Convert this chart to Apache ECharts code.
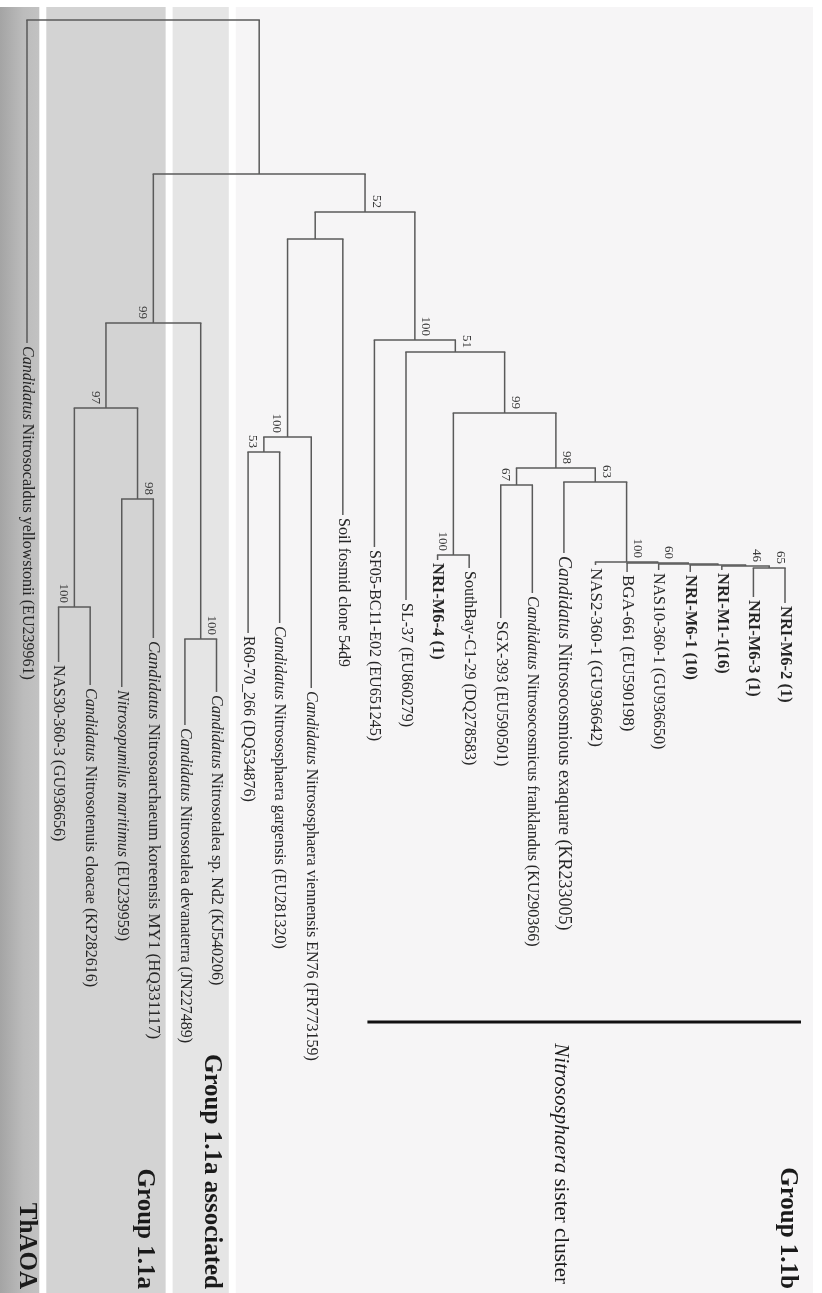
<!DOCTYPE html>
<html>
<head>
<meta charset="utf-8">
<script src="https://cdn.jsdelivr.net/npm/echarts@6/dist/echarts.min.js"></script>
<style>
  html, body { margin: 0; padding: 0; background: #ffffff; }
  #chart { width: 822px; height: 1293px; }
</style>
</head>
<body>
<div id="chart"></div>
<script>
// ---- Tree data -------------------------------------------------------------
// Taxa in drawing order (left to right).
const leafNames = [
  'Candidatus Nitrosocaldus yellowstonii (EU239961)',
  'NAS30-360-3 (GU936656)',
  'Candidatus Nitrosotenuis cloacae (KP282616)',
  'Nitrosopumilus maritimus (EU239959)',
  'Candidatus Nitrosoarchaeum koreensis MY1 (HQ331117)',
  'Candidatus Nitrosotalea devanaterra (JN227489)',
  'Candidatus Nitrosotalea sp. Nd2 (KJ540206)',
  'R60-70_266 (DQ534876)',
  'Candidatus Nitrososphaera gargensis (EU281320)',
  'Candidatus Nitrososphaera viennensis EN76 (FR773159)',
  'Soil fosmid clone 54d9',
  'SF05-BC11-E02 (EU651245)',
  'SL-37 (EU860279)',
  'NRI-M6-4 (1)',
  'SouthBay-C1-29 (DQ278583)',
  'SGX-393 (EU590501)',
  'Candidatus Nitrosocosmicus franklandus (KU290366)',
  'Candidatus Nitrosocosmious exaquare (KR233005)',
  'NAS2-360-1 (GU936642)',
  'BGA-661 (EU590198)',
  'NAS10-360-1 (GU936650)',
  'NRI-M6-1 (10)',
  'NRI-M1-1(16)',
  'NRI-M6-3 (1)',
  'NRI-M6-2 (1)'
];

// Distance from the root to each tip.
const leafTip = [
  0.323, 0.642, 0.665, 0.667, 0.618, 0.705, 0.672, 0.613, 0.603, 0.668,
  0.495, 0.527, 0.580, 0.540, 0.548, 0.598, 0.573, 0.533, 0.545, 0.552,
  0.550, 0.552, 0.550, 0.577, 0.583
];

// Internal nodes: children (tip index or node id), distance from root, bootstrap.
const nodeIds = [
  'root', 'core', 'g11a', 'n97', 'n100a', 'n98a', 'talea',
  'g11b', 'sph', 'n100b', 'n53', 'nD', 'n51', 'n99b', 'n100c',
  'n98b', 'n67', 'n63', 'n100e', 'n60', 'c1', 'c2', 'n46', 'n65'
];
const nodeKids = [
  [0, 'core'], ['g11a', 'g11b'], ['n97', 'talea'], ['n100a', 'n98a'], [1, 2], [3, 4], [5, 6],
  ['sph', 'nD'], ['n100b', 10], ['n53', 9], [7, 8], [11, 'n51'], [12, 'n99b'], ['n100c', 'n98b'], [13, 14],
  ['n67', 'n63'], [15, 16], [17, 'n100e'], [18, 'n60'], [19, 'c1'], [20, 'c2'], [21, 'n46'], [22, 'n65'], [23, 24]
];
const nodeDepth = [
  0.000, 0.154, 0.303, 0.388, 0.587, 0.479, 0.619,
  0.192, 0.219, 0.417, 0.432, 0.320, 0.332, 0.393, 0.535,
  0.448, 0.465, 0.462, 0.542, 0.543, 0.544, 0.545, 0.546, 0.548
];
const nodeSupport = [
  null, null, 99, 97, 100, 98, 100,
  52, null, 100, 53, 100, 51, 99, 100,
  98, 67, 63, 100, 60, null, null, 46, 65
];

// Shaded clades (first and last tip of each).
const cladeNames = ['ThAOA', 'Group 1.1a', 'Group 1.1a associated', 'Group 1.1b'];
const cladeFirst = [0, 1, 5, 7];
const cladeLast = [0, 4, 6, 24];

// Bracketed sub-cluster.
const bracketName = 'Nitrososphaera sister cluster';
const bracketItalic = ['Nitrososphaera'];
const bracketFirst = 11;
const bracketLast = 24;

// Words set in italics inside tip labels.
const italicTerms = ['Candidatus', 'Nitrosopumilus maritimus'];

// ---- Layout & style ----------------------------------------------------------
const W = 822, H = 1293;
const SERIF = '"Liberation Serif", "Times New Roman", serif';
const BRANCH = '#5a5a5a';
const TEXT = '#262626';
const TIP_SIZE = 16;
const TIP_SIZE_BOLD = 16.5;
const tipSizeOverride = { 4: 17, 17: 18, 18: 17, 19: 17 };
const bandColors = [
  { type: 'linear', x: 0, y: 0, x2: 1, y2: 0, colorStops: [{ offset: 0, color: '#a4a4a4' }, { offset: 0.6, color: '#bcbcbc' }, { offset: 1, color: '#c2c2c2' }] },
  '#d3d3d3', '#e5e5e5', '#f6f5f6'
];
const bandTop = 7;
const bandGap = 3.5;
const cladeLabelX = [26, 144, 211, 787];
const bracketY = 1022;
const bracketLabelX = 561;
const bracketPad = [7, 16];
const labelBottom = 1289;

// ---- Derived geometry (in axis units) ----------------------------------------
const nodeIndex = {};
nodeIds.forEach((id, i) => { nodeIndex[id] = i; });
const xCache = {};
function nodeX(id) {
  if (id in xCache) return xCache[id];
  const k = nodeKids[nodeIndex[id]];
  const v = (childX(k[0]) + childX(k[k.length - 1])) / 2;
  xCache[id] = v;
  return v;
}
function childX(c) { return typeof c === 'number' ? c : nodeX(c); }
function childDepth(c) { return typeof c === 'number' ? leafTip[c] : nodeDepth[nodeIndex[c]]; }

const parentOf = {};
const connectorData = [];
const edgeData = [];
nodeIds.forEach((id, i) => {
  const kids = nodeKids[i];
  connectorData.push([childX(kids[0]), childX(kids[kids.length - 1]), nodeDepth[i]]);
  kids.forEach(c => {
    edgeData.push([childX(c), nodeDepth[i], childDepth(c)]);
    if (typeof c !== 'number') parentOf[c] = id;
  });
});
const supportData = [];
nodeIds.forEach((id, i) => {
  if (nodeSupport[i] == null) return;
  const side = nodeX(id) >= nodeX(parentOf[id]) ? 1 : -1;
  supportData.push([nodeX(id), nodeDepth[i], nodeSupport[i], side]);
});
const leafData = leafNames.map((n, i) => [i, leafTip[i], i]);
const cladeData = cladeNames.map((n, i) => [cladeFirst[i], cladeLast[i], i]);

function richLabel(name, terms) {
  let s = name;
  terms.forEach(t => { s = s.split(t).join('{it|' + t + '}'); });
  return s;
}

// ---- Chart -----------------------------------------------------------------
const chart = echarts.init(document.getElementById('chart'), null, { renderer: 'canvas' });

const option = {
  backgroundColor: '#ffffff',
  animation: false,
  grid: { left: 27, right: 37, top: 20, height: 1000 },
  xAxis: { type: 'value', min: 0, max: 24, show: false },
  yAxis: { type: 'value', min: 0, max: 1, inverse: true, show: false },
  series: [
    {
      // clade shading and clade names
      type: 'custom',
      z: 1,
      silent: true,
      data: cladeData,
      renderItem: function (params, api) {
        const i = api.value(2);
        const n = cladeNames.length;
        const first = api.value(0), last = api.value(1);
        const left = i === 0 ? 0 : api.coord([first - 0.5, 0])[0] + bandGap;
        const right = i === n - 1 ? W - 9 : api.coord([last + 0.5, 0])[0] - bandGap;
        return {
          type: 'group',
          children: [
            {
              type: 'rect',
              shape: { x: left, y: bandTop, width: right - left, height: H - bandTop },
              style: { fill: bandColors[i] }
            },
            {
              type: 'text',
              x: cladeLabelX[i], y: labelBottom,
              rotation: -Math.PI / 2,
              style: {
                text: cladeNames[i],
                fill: '#1a1a1a',
                fontFamily: SERIF, fontSize: 25, fontWeight: 'bold',
                align: 'right', verticalAlign: 'middle'
              }
            }
          ]
        };
      }
    },
    {
      // bracket over a sub-cluster
      type: 'custom',
      z: 3,
      silent: true,
      data: [[bracketFirst, bracketLast]],
      renderItem: function (params, api) {
        const x1 = api.coord([api.value(0), 0])[0] - bracketPad[0];
        const x2 = api.coord([api.value(1), 0])[0] + bracketPad[1];
        return {
          type: 'group',
          children: [
            {
              type: 'line',
              shape: { x1: x1, y1: bracketY, x2: x2, y2: bracketY },
              style: { stroke: '#111111', lineWidth: 3 }
            },
            {
              type: 'text',
              x: bracketLabelX, y: labelBottom - 5,
              rotation: -Math.PI / 2,
              style: {
                text: richLabel(bracketName, bracketItalic),
                rich: { it: { fontStyle: 'italic', fontFamily: SERIF, fontSize: 21, fill: '#1a1a1a' } },
                fill: '#1a1a1a',
                fontFamily: SERIF, fontSize: 21,
                align: 'right', verticalAlign: 'middle'
              }
            }
          ]
        };
      }
    },
    {
      // horizontal connectors at each internal node
      type: 'custom',
      z: 4,
      silent: true,
      data: connectorData,
      renderItem: function (params, api) {
        const a = api.coord([api.value(0), api.value(2)]);
        const b = api.coord([api.value(1), api.value(2)]);
        return {
          type: 'line',
          shape: { x1: a[0] - 0.7, y1: a[1], x2: b[0] + 0.7, y2: b[1] },
          style: { stroke: BRANCH, lineWidth: 1.5 }
        };
      }
    },
    {
      // branches down to each child
      type: 'custom',
      z: 4,
      silent: true,
      data: edgeData,
      renderItem: function (params, api) {
        const a = api.coord([api.value(0), api.value(1)]);
        const b = api.coord([api.value(0), api.value(2)]);
        return {
          type: 'line',
          shape: { x1: a[0], y1: a[1], x2: b[0], y2: b[1] },
          style: { stroke: BRANCH, lineWidth: 1.5 }
        };
      }
    },
    {
      // bootstrap values
      type: 'custom',
      z: 5,
      silent: true,
      data: supportData,
      renderItem: function (params, api) {
        const p = api.coord([api.value(0), api.value(1)]);
        return {
          type: 'text',
          x: p[0] + api.value(3) * 11, y: p[1] - 4,
          rotation: -Math.PI / 2,
          style: {
            text: String(api.value(2)),
            fill: '#3a3a3a',
            fontFamily: SERIF, fontSize: 13,
            align: 'right', verticalAlign: 'middle'
          }
        };
      }
    },
    {
      // tip labels
      type: 'custom',
      z: 5,
      silent: true,
      data: leafData,
      renderItem: function (params, api) {
        const i = api.value(2);
        const p = api.coord([api.value(0), api.value(1)]);
        const name = leafNames[i];
        const bold = name.indexOf('NRI-') === 0;
        const size = tipSizeOverride[i] || (bold ? TIP_SIZE_BOLD : TIP_SIZE);
        return {
          type: 'text',
          x: p[0], y: p[1] + 3,
          rotation: -Math.PI / 2,
          style: {
            text: richLabel(name, italicTerms),
            rich: { it: { fontStyle: 'italic', fontFamily: SERIF, fontSize: size, fill: TEXT } },
            fill: TEXT,
            fontFamily: SERIF, fontSize: size,
            fontWeight: bold ? 'bold' : 'normal',
            align: 'left', verticalAlign: 'middle'
          }
        };
      }
    }
  ]
};

chart.setOption(option);
</script>
</body>
</html>
